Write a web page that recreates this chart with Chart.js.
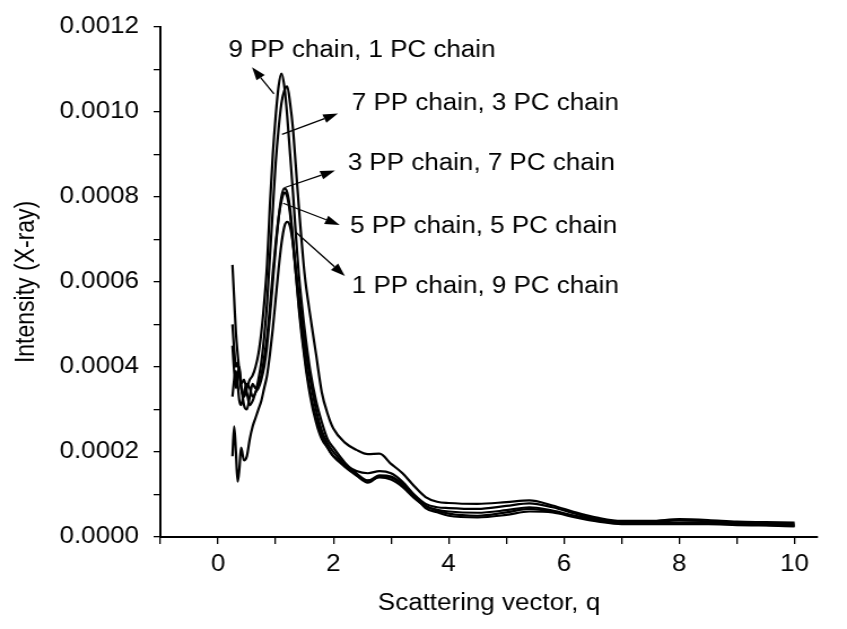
<!DOCTYPE html>
<html>
<head>
<meta charset="utf-8">
<script src="https://cdn.jsdelivr.net/npm/chart.js@4"></script>
<style>
  html, body { margin: 0; padding: 0; background: #fff; }
  canvas { display: block; }
</style>
</head>
<body>
<!-- drawn narrower and stretched, like the original figure -->
<canvas id="chart" width="750" height="629" style="width:847px;height:629px"></canvas>
<script>
// scattering vector q
const q = [0.25, 0.28, 0.31, 0.34, 0.37, 0.40,
  0.45, 0.50, 0.55, 0.60, 0.65, 0.70, 0.75, 0.80, 0.85, 0.90,
  0.95, 1.00, 1.05, 1.10, 1.15, 1.20, 1.25, 1.30, 1.35, 1.40,
  1.50, 1.60, 1.70, 1.80, 1.90, 2.00,
  2.20, 2.40, 2.60, 2.80, 3.00, 3.20, 3.40, 3.60, 3.80, 4.00,
  4.50, 5.00, 5.40, 5.80, 6.20, 6.60,
  7.00, 7.50, 8.00, 8.50, 9.00, 9.50, 10.0];

// intensity (X-ray) for each blend
const pp9pc1 = [0.00050, 0.00044, 0.00040, 0.00041, 0.00038, 0.00035,
  0.00033, 0.00035, 0.00037, 0.00038, 0.00040, 0.00043, 0.00048, 0.00055, 0.00064, 0.00078,
  0.00090, 0.00099, 0.00106, 0.00109, 0.00106, 0.00099, 0.00090, 0.00081, 0.00071, 0.00062,
  0.00049, 0.00039, 0.00032, 0.00027, 0.00023, 0.00021,
  0.000175, 0.00015, 0.000133, 0.00014, 0.000135, 0.000118, 0.000092, 0.000072, 0.000064, 0.00006,
  0.000057, 0.000063, 0.00007, 0.000062, 0.00005, 0.00004,
  0.000033, 0.000032, 0.000034, 0.000034, 0.000031, 0.00003, 0.000028];

const pp7pc3 = [0.00033, 0.00037, 0.00039, 0.00036, 0.00032, 0.00031,
  0.00034, 0.00036, 0.00035, 0.00033, 0.00034, 0.00037, 0.00041, 0.00047, 0.00055, 0.00066,
  0.00077, 0.00088, 0.00096, 0.00102, 0.00105, 0.00106, 0.00102, 0.00096, 0.00087, 0.00078,
  0.00062, 0.00052, 0.00043, 0.00034, 0.00029, 0.000255,
  0.000222, 0.000205, 0.000195, 0.000196, 0.000172, 0.00015, 0.00012, 0.000094, 0.000083, 0.00008,
  0.000078, 0.000082, 0.000086, 0.000074, 0.000058, 0.000045,
  0.000038, 0.000038, 0.000042, 0.00004, 0.000036, 0.000035, 0.000034];

const pp3pc7 = [0.00064, 0.00056, 0.00048, 0.00043, 0.00039, 0.00036,
  0.00037, 0.00034, 0.00031, 0.00032, 0.00034, 0.00035, 0.00037, 0.00040, 0.00045, 0.00052,
  0.00060, 0.00068, 0.00075, 0.00080, 0.00082, 0.00081, 0.00077, 0.00070, 0.00062, 0.00055,
  0.00043, 0.00034, 0.00028, 0.00024, 0.00021, 0.00019,
  0.00017, 0.000155, 0.00015, 0.000155, 0.00015, 0.00013, 0.0001, 0.000078, 0.00007, 0.000068,
  0.000066, 0.000073, 0.000079, 0.00007, 0.000055, 0.000042,
  0.000036, 0.000035, 0.000039, 0.000037, 0.000034, 0.000033, 0.000031];

const pp5pc5 = [0.00045, 0.00039, 0.00035, 0.00038, 0.00040, 0.00036,
  0.00031, 0.00030, 0.00033, 0.00036, 0.00035, 0.00036, 0.00038, 0.00042, 0.00047, 0.00054,
  0.00062, 0.00069, 0.00075, 0.00079, 0.00081, 0.00080, 0.00076, 0.00069, 0.00062, 0.00054,
  0.00042, 0.00033, 0.00027, 0.00023, 0.00021, 0.00019,
  0.000165, 0.000145, 0.000128, 0.000142, 0.00014, 0.000122, 0.000095, 0.000074, 0.000062, 0.000055,
  0.00005, 0.000058, 0.000066, 0.00006, 0.000048, 0.000038,
  0.000032, 0.000031, 0.000032, 0.000032, 0.00003, 0.000028, 0.000026];

const pp1pc9 = [0.00019, 0.00026, 0.00020, 0.00013, 0.00016, 0.00021,
  0.00018, 0.00019, 0.00023, 0.00026, 0.00028, 0.00030, 0.00032, 0.00035, 0.00038, 0.00043,
  0.00049, 0.00056, 0.00063, 0.00069, 0.00073, 0.000741, 0.00073, 0.00069, 0.00063, 0.00057,
  0.00046, 0.00037, 0.00030, 0.00025, 0.00022, 0.0002,
  0.00017, 0.000145, 0.000132, 0.000145, 0.000142, 0.000125, 0.000098, 0.000068, 0.000058, 0.00005,
  0.000046, 0.000052, 0.00006, 0.000058, 0.000046, 0.000036,
  0.00003, 0.00003, 0.00003, 0.00003, 0.000028, 0.000027, 0.000025];

const seriesNames = ["9 PP chain, 1 PC chain", "7 PP chain, 3 PC chain",
  "3 PP chain, 7 PC chain", "5 PP chain, 5 PC chain", "1 PP chain, 9 PC chain"];
const seriesValues = [pp9pc1, pp7pc3, pp3pc7, pp5pc5, pp1pc9];

const xTickLabels = [0, 2, 4, 6, 8, 10];
const yTickLabels = ["0.0000", "0.0002", "0.0004", "0.0006", "0.0008", "0.0010", "0.0012"];

// label text anchor and arrow (tail -> head), in data units
const noteAt   = [[0.18, 0.001144], [2.32, 0.001019], [2.25, 0.000878], [2.29, 0.00073], [2.32, 0.000588]];
const arrowFrom = [[0.97, 0.001042], [1.11, 0.000947], [1.16, 0.000822], [1.13, 0.000785], [1.34, 0.000718]];
const arrowTo   = [[0.59, 0.001105], [2.08, 0.000996], [2.03, 0.000862], [2.11, 0.000734], [2.20, 0.000614]];

const FONT = '"Liberation Sans", Arial, sans-serif';

const notePlugin = {
  id: "notes",
  afterDatasetsDraw(chart) {
    const { ctx } = chart;
    const x = chart.scales.x, y = chart.scales.y;
    ctx.save();
    ctx.fillStyle = "#000";
    ctx.strokeStyle = "#000";
    ctx.font = "23px " + FONT;
    ctx.textAlign = "left";
    ctx.textBaseline = "middle";
    seriesNames.forEach((name, i) => {
      ctx.fillText(name, x.getPixelForValue(noteAt[i][0]), y.getPixelForValue(noteAt[i][1]));

      const x0 = x.getPixelForValue(arrowFrom[i][0]), y0 = y.getPixelForValue(arrowFrom[i][1]);
      const x1 = x.getPixelForValue(arrowTo[i][0]), y1 = y.getPixelForValue(arrowTo[i][1]);
      const ang = Math.atan2(y1 - y0, x1 - x0);
      const len = 13, half = 4.5;
      const bx = x1 - len * Math.cos(ang), by = y1 - len * Math.sin(ang);
      ctx.lineWidth = 1.3;
      ctx.beginPath();
      ctx.moveTo(x0, y0);
      ctx.lineTo(bx, by);
      ctx.stroke();
      ctx.beginPath();
      ctx.moveTo(x1, y1);
      ctx.lineTo(bx + half * Math.sin(ang), by - half * Math.cos(ang));
      ctx.lineTo(bx - half * Math.sin(ang), by + half * Math.cos(ang));
      ctx.closePath();
      ctx.fill();
    });
    ctx.restore();
  }
};

const ctx = document.getElementById("chart").getContext("2d");
new Chart(ctx, {
  type: "line",
  data: {
    datasets: seriesValues.map((vals, i) => ({
      label: seriesNames[i],
      data: q.map((v, k) => ({ x: v, y: vals[k] })),
      borderColor: "#000",
      borderWidth: 2.2,
      pointRadius: 0,
      fill: false,
      cubicInterpolationMode: "monotone",
    })),
  },
  options: {
    responsive: false,
    animation: false,
    devicePixelRatio: 1,
    layout: { padding: { left: 0, right: 26, top: 19, bottom: 0 } },
    plugins: { legend: { display: false }, tooltip: { enabled: false } },
    scales: {
      x: {
        type: "linear",
        min: -1,
        max: 10.4,
        afterFit: (s) => { s.height = 92; },
        border: { display: true, color: "#000", width: 2 },
        grid: { drawOnChartArea: false, drawTicks: true, tickLength: 7, color: "#000", lineWidth: 1.3 },
        ticks: {
          stepSize: 1,
          includeBounds: false,
          autoSkip: false,
          maxRotation: 0,
          padding: 7,
          color: "#000",
          font: { family: FONT, size: 23 },
          callback: (v) => (xTickLabels.includes(v) ? String(v) : ""),
        },
        title: {
          display: true,
          text: "Scattering vector, q",
          color: "#000",
          font: { family: FONT, size: 23 },
          padding: { top: 0, bottom: 12 },
        },
      },
      y: {
        type: "linear",
        min: 0,
        max: 0.0012,
        afterFit: (s) => { s.width = 142; },
        border: { display: true, color: "#000", width: 2 },
        grid: { drawOnChartArea: false, drawTicks: true, tickLength: 6, color: "#000", lineWidth: 1.3 },
        ticks: {
          stepSize: 0.0001,
          autoSkip: false,
          padding: 13,
          color: "#000",
          font: { family: FONT, size: 23 },
          callback: (v) => {
            const k = Math.round(v * 10000);
            return k % 2 === 0 ? yTickLabels[k / 2] : "";
          },
        },
        title: {
          display: true,
          text: "Intensity (X-ray)",
          color: "#000",
          font: { family: FONT, size: 23 },
          padding: { top: 10, bottom: 0 },
        },
      },
    },
  },
  plugins: [notePlugin],
});
</script>
</body>
</html>
